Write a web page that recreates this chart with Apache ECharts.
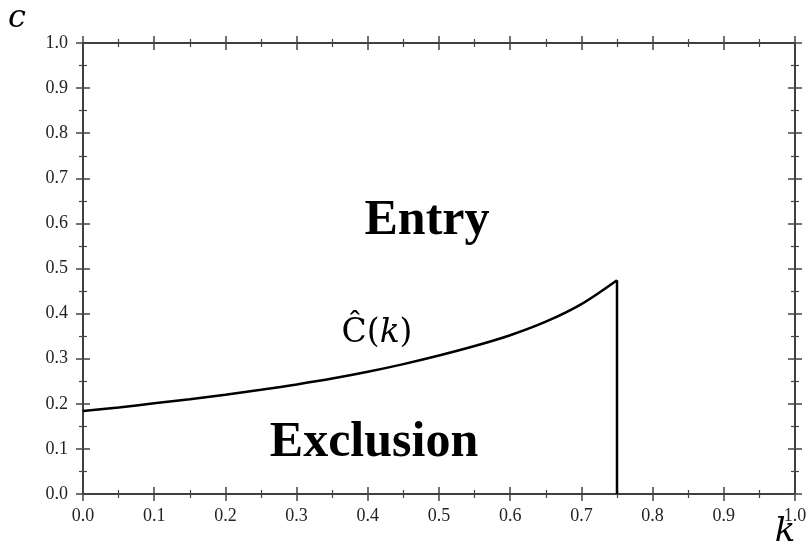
<!DOCTYPE html>
<html>
<head>
<meta charset="utf-8">
<script src="https://cdn.jsdelivr.net/npm/echarts@6/dist/echarts.min.js"></script>
<style>html,body{margin:0;padding:0;background:#fff}#c{width:810px;height:558px}</style>
</head>
<body>
<div id="c"></div>
<script>
// k values and the threshold curve C^(k)
var kValues = [0, 0.05, 0.1, 0.15, 0.2, 0.25, 0.3, 0.35, 0.4, 0.45, 0.5, 0.55, 0.6, 0.65, 0.7, 0.75];
var cValues = [0.184, 0.192, 0.201, 0.210, 0.220, 0.231, 0.243, 0.256, 0.271, 0.288, 0.307, 0.328, 0.352, 0.382, 0.421, 0.474];
// vertical boundary at k = 0.75
var boundaryK = [0.75, 0.75];
var boundaryC = [0, 0.474];
var tickLabels = ['0.0','0.1','0.2','0.3','0.4','0.5','0.6','0.7','0.8','0.9','1.0'];

var curve = kValues.map(function (k, i) { return [k, cValues[i]]; });
var boundary = boundaryK.map(function (k, i) { return [k, boundaryC[i]]; });

var axisColor = '#333';
var labelFont = { fontFamily: 'Liberation Serif', fontSize: 18, color: '#222' };

function mkAxis(pos, inside, showLabel, isX) {
  return {
    type: 'value', position: pos, min: 0, max: 1, interval: 0.1,
    axisLine: { show: true, onZero: false, lineStyle: { color: axisColor, width: 1.5 } },
    axisTick: { show: true, inside: inside, length: 7, lineStyle: { color: '#444', width: 1.5 } },
    minorTick: { show: true, splitNumber: 2, length: 4, lineStyle: { color: '#444', width: 1.2 } },
    splitLine: { show: false },
    axisLabel: showLabel ? Object.assign({
      show: true, margin: isX ? 13 : 15,
      formatter: function (v) { return tickLabels[Math.round(v * 10)]; }
    }, labelFont) : { show: false }
  };
}

var chart = echarts.init(document.getElementById('c'), null, { renderer: 'canvas' });
chart.setOption({
  animation: false,
  backgroundColor: '#fff',
  grid: { left: 83, right: 15, top: 43, bottom: 64, containLabel: false },
  xAxis: [
    mkAxis('bottom', true, true, true),
    mkAxis('bottom', false, false, true),
    mkAxis('top', true, false, true),
    mkAxis('top', false, false, true)
  ],
  yAxis: [
    mkAxis('left', true, true, false),
    mkAxis('left', false, false, false),
    mkAxis('right', true, false, false),
    mkAxis('right', false, false, false)
  ],
  series: [
    { type: 'line', data: curve, smooth: 0.3, showSymbol: false, xAxisIndex: 0, yAxisIndex: 0,
      lineStyle: { color: '#000', width: 2.5 } },
    { type: 'line', data: boundary, showSymbol: false, xAxisIndex: 0, yAxisIndex: 0,
      lineStyle: { color: '#000', width: 2.5 } }
  ],
  graphic: [
    { type: 'text', x: 427, y: 221, style: { text: 'Entry', fontFamily: 'Liberation Serif', fontWeight: 'bold', fontSize: 50, fill: '#000', align: 'center', verticalAlign: 'middle' } },
    { type: 'text', x: 374, y: 443, style: { text: 'Exclusion', fontFamily: 'Liberation Serif', fontWeight: 'bold', fontSize: 50, fill: '#000', align: 'center', verticalAlign: 'middle' } },
    { type: 'text', x: 377, y: 333, style: {
        text: '{a|Ĉ}{b|(}{c|k}{b|)}', align: 'center', verticalAlign: 'middle',
        rich: {
          a: { fontFamily: 'DejaVu Serif', fontSize: 33, fill: '#000' },
          b: { fontFamily: 'DejaVu Serif', fontSize: 33, fill: '#000' },
          c: { fontFamily: 'DejaVu Serif', fontStyle: 'italic', fontSize: 33, fill: '#000' }
        } } },
    { type: 'text', x: 17, y: 19, style: { text: 'c', fontFamily: 'DejaVu Serif', fontStyle: 'italic', fontSize: 32, fill: '#000', align: 'center', verticalAlign: 'middle' } },
    { type: 'text', x: 785, y: 532, style: { text: 'k', fontFamily: 'DejaVu Serif', fontStyle: 'italic', fontSize: 34, fill: '#000', align: 'center', verticalAlign: 'middle' } }
  ]
});
</script>
</body>
</html>
